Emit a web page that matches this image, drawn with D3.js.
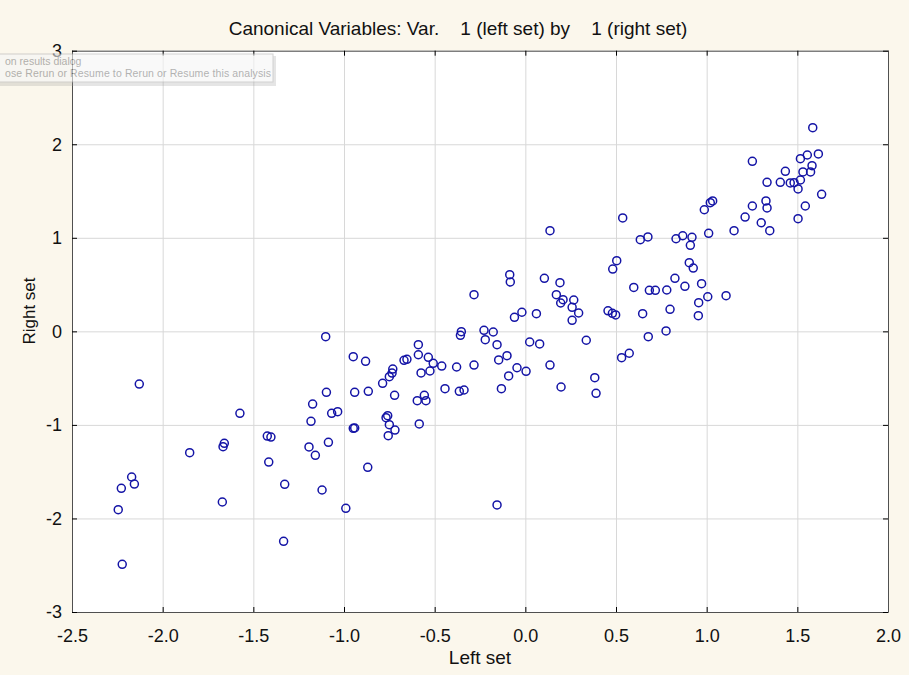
<!DOCTYPE html>
<html lang="en">
<head>
<meta charset="UTF-8">
<title>Canonical Variables</title>
<script src="https://cdn.jsdelivr.net/npm/d3@7"></script>
<style>
  body { margin: 0; background: #fbf7ec; }
  svg { display: block; font-family: "Liberation Sans", Arial, sans-serif; }
</style>
</head>
<body>
<script>
// canonical scores: left set (x) / right set (y)
const leftSet = [
  -2.129, -1.574, -1.101, -1.097, -1.173, -1.068, -1.035, -1.182, -1.423, -1.403,
  -1.660, -1.667, -1.851, -1.193, -1.086, -1.158, -1.415, -2.171, -2.156, -2.228,
  -2.245, -1.327, -1.121, -1.671, -1.333, -2.223, -0.990, -0.949, -0.941, -0.869,
  -0.756, -0.719, -0.750, -0.585, -0.156, 0.136, -0.086, -0.083, 0.105, 0.191,
  -0.283, 0.171, 0.208, 0.195, 0.267, 0.258, 0.294, 0.258, -0.019, -0.060,
  0.061, 0.336, -0.353, -0.358, -0.228, -0.177, -0.221, -0.156, 0.024, 0.079,
  -0.590, -0.590, -0.535, -0.508, -0.461, -0.379, -0.283, -0.101, -0.147, -0.046,
  0.004, -0.092, -0.132, 0.136, 0.197, 0.383, 0.390, -0.669, -0.653, -0.731,
  -0.735, -0.750, -0.575, -0.526, -0.787, -0.721, -0.949, -0.881, -0.941, -0.866,
  -0.768, -0.759, -0.596, -0.557, -0.548, -0.443, -0.364, -0.338, 1.585, 1.616,
  1.555, 1.517, 1.252, 1.581, 1.531, 1.573, 1.434, 1.333, 1.406, 1.461,
  1.482, 1.517, 1.504, 1.634, 1.327, 1.333, 1.252, 1.544, 1.504, 1.212,
  1.301, 1.348, 1.151, 1.033, 1.020, 0.987, 1.011, 0.537, 0.634, 0.676,
  0.831, 0.868, 0.919, 0.910, 0.904, 0.926, 0.504, 0.482, 0.825, 0.880,
  0.972, 0.598, 0.684, 0.717, 0.780, 1.107, 1.006, 0.956, 0.954, 0.798,
  0.647, 0.456, 0.480, 0.498, 0.776, 0.678, 0.573, 0.531
]
const rightSet = [
  -0.563, -0.876, -0.057, -0.652, -0.777, -0.876, -0.859, -0.962, -1.119, -1.130,
  -1.197, -1.233, -1.297, -1.236, -1.186, -1.325, -1.397, -1.557, -1.632, -1.678,
  -1.906, -1.635, -1.696, -1.824, -2.244, -2.490, -1.892, -1.036, -1.033, -1.453,
  -1.115, -1.055, -0.998, -0.990, -1.856, 1.076, 0.606, 0.528, 0.567, 0.520,
  0.392, 0.392, 0.338, 0.303, 0.335, 0.257, 0.196, 0.118, 0.204, 0.150,
  0.189, -0.095, -0.004, -0.042, 0.011, -0.007, -0.089, -0.143, -0.114, -0.135,
  -0.143, -0.250, -0.278, -0.342, -0.371, -0.381, -0.360, -0.260, -0.306, -0.389,
  -0.427, -0.477, -0.613, -0.360, -0.595, -0.495, -0.662, -0.310, -0.299, -0.403,
  -0.446, -0.485, -0.445, -0.424, -0.555, -0.684, -0.271, -0.320, -0.652, -0.641,
  -0.923, -0.902, -0.741, -0.684, -0.741, -0.613, -0.641, -0.627, 2.177, 1.896,
  1.885, 1.846, 1.818, 1.771, 1.704, 1.704, 1.711, 1.593, 1.593, 1.586,
  1.589, 1.618, 1.522, 1.465, 1.394, 1.319, 1.340, 1.340, 1.204, 1.222,
  1.161, 1.076, 1.076, 1.394, 1.375, 1.300, 1.048, 1.212, 0.980, 1.009,
  0.990, 1.022, 1.005, 0.920, 0.734, 0.677, 0.755, 0.666, 0.567, 0.481,
  0.509, 0.470, 0.439, 0.439, 0.442, 0.381, 0.370, 0.306, 0.167, 0.236,
  0.189, 0.220, 0.193, 0.175, 0.004, -0.057, -0.234, -0.281
]
const xTicks = [-2.5, -2.0, -1.5, -1.0, -0.5, 0.0, 0.5, 1.0, 1.5, 2.0]
const yTicks = [-3, -2, -1, 0, 1, 2, 3]

const width = 909
const height = 675
const margin = { top: 50.7, right: 21, bottom: 63, left: 72 }

const svg = d3.select('body').append('svg')
  .attr('width', width)
  .attr('height', height)

svg.append('rect')
  .attr('width', width).attr('height', height)
  .attr('fill', '#fbf7ec')

const xScale = d3.scaleLinear()
  .domain([-2.5, 2.0])
  .range([margin.left, width - margin.right])

const yScale = d3.scaleLinear()
  .domain([-3, 3])
  .range([height - margin.bottom, margin.top])

const plotW = xScale.range()[1] - xScale.range()[0]
const plotH = yScale.range()[0] - yScale.range()[1]

svg.append('rect')
  .attr('x', margin.left).attr('y', margin.top)
  .attr('width', plotW).attr('height', plotH)
  .attr('fill', '#ffffff')

// grid
svg.append('g')
  .attr('transform', `translate(0, ${yScale(-3)})`)
  .call(d3.axisBottom(xScale).tickValues(xTicks).tickSize(-plotH).tickFormat(''))
  .call(g => g.select('.domain').remove())
  .call(g => g.selectAll('line').attr('stroke', '#d8d8d8'))

svg.append('g')
  .attr('transform', `translate(${margin.left}, 0)`)
  .call(d3.axisLeft(yScale).tickValues(yTicks).tickSize(-plotW).tickFormat(''))
  .call(g => g.select('.domain').remove())
  .call(g => g.selectAll('line').attr('stroke', '#d8d8d8'))

// points
svg.append('g')
  .selectAll('circle')
  .data(leftSet.map((d, i) => [d, rightSet[i]]))
  .enter()
  .append('circle')
  .attr('cx', d => xScale(d[0]))
  .attr('cy', d => yScale(d[1]))
  .attr('r', 4)
  .attr('fill', 'none')
  .attr('stroke', '#1414a6')
  .attr('stroke-width', 1.5)

// axes, ticks pointing inward
const xAxis = svg.append('g')
  .attr('transform', `translate(0, ${yScale(-3)})`)
  .call(d3.axisBottom(xScale).tickValues(xTicks).tickSizeInner(-5).tickSizeOuter(0).tickPadding(17)
    .tickFormat(d => d.toFixed(1)))

svg.append('g')
  .attr('transform', `translate(0, ${yScale(3)})`)
  .call(d3.axisTop(xScale).tickValues(xTicks).tickSizeInner(-5).tickSizeOuter(0).tickFormat(''))

const yAxis = svg.append('g')
  .attr('transform', `translate(${margin.left}, 0)`)
  .call(d3.axisLeft(yScale).tickValues(yTicks).tickSizeInner(-5).tickSizeOuter(0).tickPadding(10)
    .tickFormat(d => String(d)))

svg.append('g')
  .attr('transform', `translate(${xScale(2.0)}, 0)`)
  .call(d3.axisRight(yScale).tickValues(yTicks).tickSizeInner(-5).tickSizeOuter(0).tickFormat(''))

svg.selectAll('.domain').attr('stroke', '#505050')
xAxis.selectAll('text').attr('font-size', '18px').attr('fill', '#111').attr('font-family', 'Liberation Sans, Arial')
yAxis.selectAll('text').attr('font-size', '18px').attr('fill', '#111').attr('font-family', 'Liberation Sans, Arial')

// titles
svg.append('text')
  .attr('x', 458)
  .attr('y', 35)
  .attr('text-anchor', 'middle')
  .attr('font-size', '19px')
  .attr('fill', '#111')
  .attr('xml:space', 'preserve')
  .text('Canonical Variables: Var.    1 (left set) by    1 (right set)')

svg.append('text')
  .attr('x', xScale(-0.25))
  .attr('y', 664)
  .attr('text-anchor', 'middle')
  .attr('font-size', '19px')
  .attr('fill', '#111')
  .text('Left set')

svg.append('text')
  .attr('transform', 'translate(35, 311) rotate(-90)')
  .attr('text-anchor', 'middle')
  .attr('font-size', '17px')
  .attr('fill', '#111')
  .text('Right set')

// faded tooltip left over from the screenshot
const tip = svg.append('g').attr('opacity', 0.6)
tip.append('rect')
  .attr('x', -4).attr('y', 56).attr('width', 280).attr('height', 30)
  .attr('fill', '#a0a0a0').attr('opacity', 0.45)
tip.append('rect')
  .attr('x', -4).attr('y', 54).attr('width', 277).attr('height', 28)
  .attr('fill', '#f6f6f6').attr('stroke', '#b4b4b4')
tip.append('text')
  .attr('x', 5).attr('y', 65)
  .attr('font-size', '10.5px').attr('fill', '#808080')
  .text('on results dialog')
tip.append('text')
  .attr('x', 5).attr('y', 77)
  .attr('font-size', '10.5px').attr('fill', '#808080')
  .attr('textLength', 266)
  .text('ose Rerun or Resume to Rerun or Resume this analysis')
</script>
</body>
</html>
